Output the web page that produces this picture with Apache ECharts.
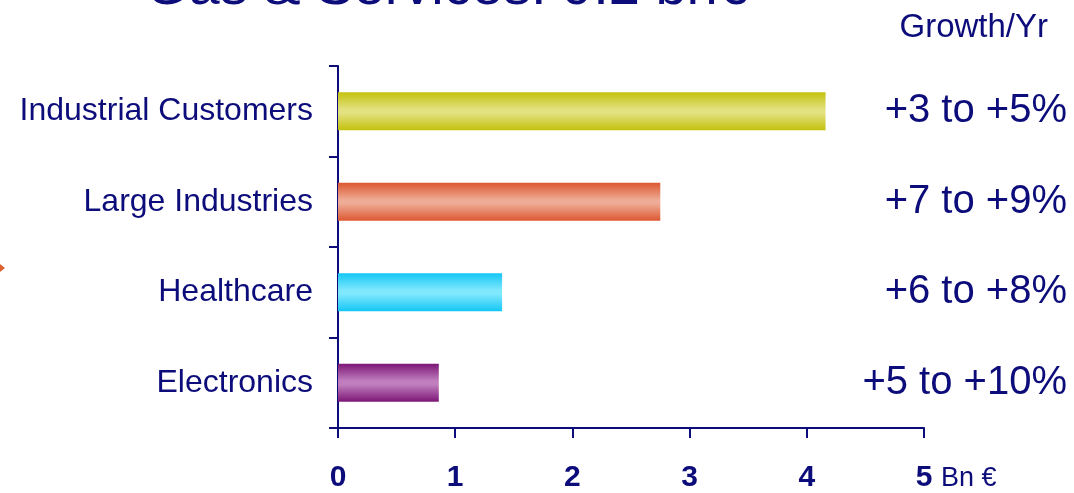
<!DOCTYPE html>
<html>
<head>
<meta charset="utf-8">
<script src="https://cdn.jsdelivr.net/npm/echarts@6/dist/echarts.min.js"></script>
<style>
  html, body { margin: 0; padding: 0; background: #fff; }
  #chart { width: 1074px; height: 493px; }
</style>
</head>
<body>
<div id="chart"></div>
<script>
// data
const categories = ['Industrial Customers', 'Large Industries', 'Healthcare', 'Electronics']
const sales = [4.16, 2.75, 1.4, 0.86]
const growth = ['+3 to +5%', '+7 to +9%', '+6 to +8%', '+5 to +10%']
const xTicks = [0, 1, 2, 3, 4, 5]

// bar gradients (edge, centre)
const barColors = [
  ['#c3c10c', '#e3e180'],
  ['#dc5831', '#eeab95'],
  ['#14c6f6', '#80e8fd'],
  ['#7c1676', '#c07ebe']
]
const navy = '#0c0c7a'
const font = 'Liberation Sans, Arial, sans-serif'

function grad(c) {
  return new echarts.graphic.LinearGradient(0, 0, 0, 1, [
    { offset: 0, color: c[0] },
    { offset: 0.45, color: c[1] },
    { offset: 0.55, color: c[1] },
    { offset: 1, color: c[0] }
  ])
}

const chart = echarts.init(document.getElementById('chart'))
chart.setOption({
  animation: false,
  textStyle: { fontFamily: font },
  title: [
    {
      text: 'Gas & Services: 9.2 bn€',
      left: 140,
      top: -44,
      textStyle: { fontSize: 56, fontWeight: 'normal', color: navy, fontFamily: font }
    },
    {
      text: 'Growth/Yr',
      right: 21,
      top: 6,
      textStyle: { fontSize: 33, fontWeight: 'normal', color: navy, fontFamily: font }
    }
  ],
  grid: { left: 338, right: 150, top: 66, bottom: 65, containLabel: false },
  xAxis: {
    type: 'value',
    min: xTicks[0],
    max: xTicks[xTicks.length - 1],
    interval: 1,
    name: 'Bn €',
    nameLocation: 'end',
    nameGap: 17,
    nameTextStyle: { color: navy, fontSize: 27, verticalAlign: 'top', padding: [37, 0, 0, 0] },
    axisLine: { show: true, lineStyle: { color: navy, width: 2 } },
    axisTick: { show: true, length: 10, lineStyle: { color: navy, width: 2 } },
    axisLabel: { color: navy, fontSize: 30, fontWeight: 'bold', margin: 35 },
    splitLine: { show: false }
  },
  yAxis: [
    {
      type: 'category',
      data: categories,
      inverse: true,
      axisLine: { show: true, lineStyle: { color: navy, width: 2 } },
      axisTick: { show: true, length: 9, lineStyle: { color: navy, width: 2 } },
      axisLabel: { color: navy, fontSize: 32, margin: 25 }
    },
    {
      type: 'category',
      data: growth,
      inverse: true,
      position: 'right',
      axisLine: { show: false },
      axisTick: { show: false },
      axisLabel: { color: navy, fontSize: 40, align: 'right', margin: 143 }
    }
  ],
  series: [
    {
      type: 'bar',
      barWidth: 38,
      data: sales.map((v, i) => ({ value: v, itemStyle: { color: grad(barColors[i]) } }))
    }
  ],
  graphic: [
    {
      type: 'polygon',
      shape: { points: [[0, 264], [5, 268], [0, 272]] },
      style: { fill: '#e06030' }
    }
  ]
})
</script>
</body>
</html>
